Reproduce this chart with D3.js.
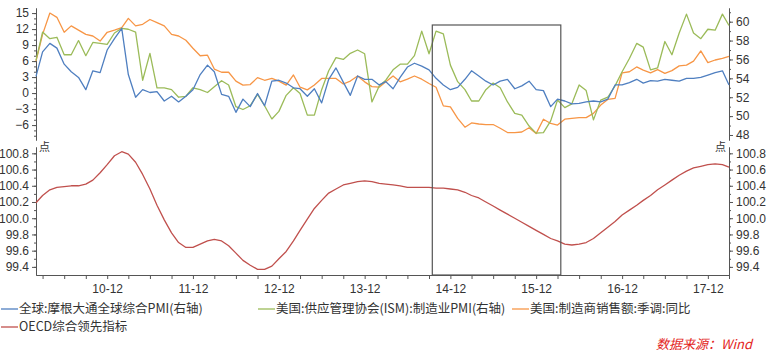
<!DOCTYPE html>
<html><head><meta charset="utf-8">
<script src="https://cdn.jsdelivr.net/npm/d3@7"></script>
<style>
body{margin:0;background:#fff;}
svg{display:block;font-family:"Noto Sans CJK SC","Noto Sans",sans-serif;}
</style></head><body>
<svg id="c" width="768" height="354"></svg>
<script>
// ---- data (monthly, starting Feb 2010) ----
const startMonth = "2010-02";
const xTickLabels = ["10-12","11-12","12-12","13-12","14-12","15-12","16-12","17-12"];
const seriesNames = ["全球:摩根大通全球综合PMI(右轴)","美国:供应管理协会(ISM):制造业PMI(右轴)","美国:制造商销售额:季调:同比","OECD综合领先指标"];
const globalPMI = [54.2,56.8,57.7,57.2,55.5,54.7,54.1,52.8,54.8,54.6,57.0,58.2,59.3,54.4,52.0,52.8,52.5,52.6,51.6,52.1,51.5,52.1,52.8,54.4,55.4,54.7,52.3,52.1,50.4,51.8,51.0,52.4,51.1,53.7,53.8,53.5,53.0,52.9,52.1,52.9,51.4,53.9,55.1,53.6,52.2,54.25,53.9,53.9,53.3,53.65,52.9,54.1,55.2,55.6,55.3,54.9,54.0,53.3,52.8,53.05,53.9,54.8,54.25,53.7,53.3,53.7,53.9,52.9,53.2,53.7,52.8,52.7,51.0,51.8,51.6,51.3,51.35,51.5,51.6,51.5,51.8,53.3,53.3,53.55,53.9,53.5,53.75,53.7,53.9,53.8,53.7,54.0,54.0,54.1,54.35,54.6,54.8,53.3];
const ismPMI = [55.9,58.9,58.2,58.35,56.5,56.5,58.0,56.4,57.8,57.7,57.6,58.8,59.3,59.2,58.9,53.8,56.65,53.0,53.0,52.8,52.0,52.1,53.0,52.8,52.5,53.1,53.75,53.3,51.0,50.7,51.1,52.3,51.1,49.7,50.5,52.2,53.0,52.4,50.1,50.1,52.8,54.8,56.2,56.0,56.65,57.0,56.6,51.5,53.2,53.8,54.9,55.5,55.5,56.4,59.0,56.6,59.0,58.7,55.4,53.65,52.8,51.6,51.6,52.8,53.5,53.0,51.5,50.3,50.1,48.95,48.2,48.25,49.5,51.7,50.9,51.3,53.3,52.7,49.6,51.7,52.0,53.2,54.7,56.1,57.7,57.3,54.9,55.1,57.9,56.5,58.8,60.8,58.8,58.2,59.2,59.1,60.8,59.6];
const salesYoY = [6.0,11.0,15.0,14.2,11.4,12.6,11.8,11.0,10.7,9.75,11.4,11.8,12.25,14.0,12.6,12.9,13.8,13.2,12.6,11.0,10.7,9.9,8.4,7.0,7.1,4.5,3.9,3.9,2.25,1.5,1.6,2.9,2.4,2.75,2.25,1.5,3.4,1.1,0.6,1.5,2.75,2.75,2.75,1.7,2.25,3.2,2.1,1.2,1.1,2.1,3.2,2.1,2.6,3.2,2.6,1.8,1.1,-2.4,-2.6,-4.75,-6.4,-5.6,-5.8,-5.9,-5.9,-6.6,-7.4,-7.4,-7.3,-6.5,-7.6,-4.9,-5.7,-6.0,-4.9,-4.75,-4.6,-4.6,-3.8,-2.25,-1.2,-1.0,3.8,4.0,4.9,4.3,3.8,4.4,3.7,4.2,5.1,5.25,6.0,7.9,5.7,6.2,6.5,6.9];
const oecdCLI = [100.19,100.28,100.35,100.38,100.39,100.40,100.40,100.42,100.47,100.56,100.66,100.77,100.82,100.79,100.69,100.54,100.36,100.16,99.98,99.82,99.70,99.64,99.64,99.68,99.72,99.74,99.72,99.66,99.57,99.48,99.42,99.37,99.37,99.41,99.50,99.59,99.72,99.85,99.99,100.12,100.22,100.31,100.36,100.41,100.43,100.45,100.46,100.45,100.43,100.42,100.41,100.40,100.38,100.38,100.38,100.38,100.37,100.37,100.36,100.35,100.32,100.28,100.25,100.20,100.15,100.10,100.05,100.00,99.95,99.90,99.85,99.80,99.75,99.72,99.68,99.67,99.68,99.70,99.75,99.82,99.89,99.96,100.04,100.10,100.16,100.22,100.28,100.35,100.41,100.47,100.53,100.58,100.62,100.64,100.66,100.67,100.66,100.63];
const leftTopTicks = [-6,-3,0,3,6,9,12,15];
const rightTopTicks = [48,50,52,54,56,58,60];
const bottomTicks = [99.4,99.6,99.8,100.0,100.2,100.4,100.6,100.8];
const highlight = ["2014-09-15","2016-03-15"];
const sourceText = "数据来源：Wind";

const colors = {global:"#4f7fc0", ism:"#9bbb59", sales:"#f79646", oecd:"#c0504d"};

const svg = d3.select("#c");
const parse = d3.timeParse("%Y-%m");
const start = parse(startMonth);
const months = d3.range(globalPMI.length).map(i => d3.timeMonth.offset(start, i));

const L = 36, R = 729;
const x = d3.scaleTime().domain([months[0], months[months.length-1]]).range([L, R]);
const yL = d3.scaleLinear().domain([-8.8, 15.95]).range([140, 8]);
const yR = d3.scaleLinear().domain([47.47, 61.45]).range([140, 8]);
const yB = d3.scaleLinear().domain([99.30, 100.878]).range([275, 147]);

const axisColor = "#555", textColor = "#333", fs = 12;
function styleAxis(g){
  g.selectAll("path,line").attr("stroke", axisColor);
  g.selectAll("text").attr("fill", textColor).style("font-size", fs+"px");
}
function addAxis(axis, tx, ty){
  const g = svg.append("g").attr("transform",`translate(${tx},${ty})`).call(axis);
  styleAxis(g); return g;
}
// top panel axes
addAxis(d3.axisLeft(yL).tickValues(d3.range(-8,16,1)).tickSize(2).tickFormat("").tickSizeOuter(0), L, 0);
addAxis(d3.axisLeft(yL).tickValues(leftTopTicks).tickSize(4).tickFormat(d3.format("d")).tickSizeOuter(0), L, 0);
addAxis(d3.axisRight(yR).tickValues(d3.range(48,62,1)).tickSize(2).tickFormat("").tickSizeOuter(0), R, 0);
addAxis(d3.axisRight(yR).tickValues(rightTopTicks).tickSize(4).tickFormat(d3.format("d")).tickSizeOuter(0), R, 0);
// bottom panel axes
const minorB = d3.range(99.4, 100.85, 0.1);
addAxis(d3.axisLeft(yB).tickValues(minorB).tickSize(2).tickFormat("").tickSizeOuter(0), L, 0);
addAxis(d3.axisLeft(yB).tickValues(bottomTicks).tickSize(4).tickFormat(d3.format(".1f")).tickSizeOuter(0), L, 0);
addAxis(d3.axisRight(yB).tickValues(minorB).tickSize(2).tickFormat("").tickSizeOuter(0), R, 0);
addAxis(d3.axisRight(yB).tickValues(bottomTicks).tickSize(4).tickFormat(d3.format(".1f")).tickSizeOuter(0), R, 0);
// x axis
const qTicks = d3.timeMonth.range(months[0], d3.timeMonth.offset(months[months.length-1],1)).filter(d => d.getMonth()%3===2);
const decTicks = qTicks.filter(d => d.getMonth()===11);
const xa = addAxis(d3.axisBottom(x).tickValues(qTicks).tickSize(4).tickSizeOuter(0)
  .tickFormat(d => d.getMonth()===11 ? xTickLabels[decTicks.findIndex(t => +t===+d)] : ""), 0, 275);
xa.selectAll("text").attr("dy","0.9em");

// unit labels
svg.append("text").attr("x", L+3).attr("y", 151).text("点").attr("fill", textColor).style("font-size","11px");
svg.append("text").attr("x", R-3).attr("y", 151).attr("text-anchor","end").text("点").attr("fill", textColor).style("font-size","11px");

// lines
const mk = (ys) => d3.line().x((d,i) => x(months[i])).y(d => ys(d));
function drawLine(data, ys, col){
  svg.append("path").datum(data).attr("d", mk(ys)).attr("fill","none").attr("stroke",col).attr("stroke-width",1.3).attr("stroke-linejoin","round");
}
drawLine(salesYoY, yL, colors.sales);
drawLine(ismPMI, yR, colors.ism);
drawLine(globalPMI, yR, colors.global);
drawLine(oecdCLI, yB, colors.oecd);

// highlight box
const pd = d3.timeParse("%Y-%m-%d");
const bx0 = x(pd(highlight[0])), bx1 = x(pd(highlight[1]));
svg.append("rect").attr("x", bx0).attr("y", 25).attr("width", bx1-bx0).attr("height", 275-25)
  .attr("fill","none").attr("stroke","#555").attr("stroke-width",1.2);

// legend
const legendItems = [
  {name: seriesNames[0], col: colors.global, x: 0, y: 309},
  {name: seriesNames[1], col: colors.ism, x: 257, y: 309},
  {name: seriesNames[2], col: colors.sales, x: 511, y: 309},
  {name: seriesNames[3], col: colors.oecd, x: 0, y: 327}
];
const lg = svg.append("g");
legendItems.forEach(it => {
  lg.append("line").attr("x1", it.x+1).attr("x2", it.x+18).attr("y1", it.y).attr("y2", it.y).attr("stroke", it.col).attr("stroke-width",1.3);
  lg.append("text").attr("x", it.x+19).attr("y", it.y).attr("dy","0.35em").text(it.name)
    .attr("fill", textColor).style("font-size","12.5px");
});
// source
svg.append("text").attr("x", 752).attr("y", 344).attr("dy","0.35em").attr("text-anchor","end")
  .text(sourceText).attr("fill","#e3231b").style("font-size","13px").style("font-style","italic");
</script>
</body></html>
